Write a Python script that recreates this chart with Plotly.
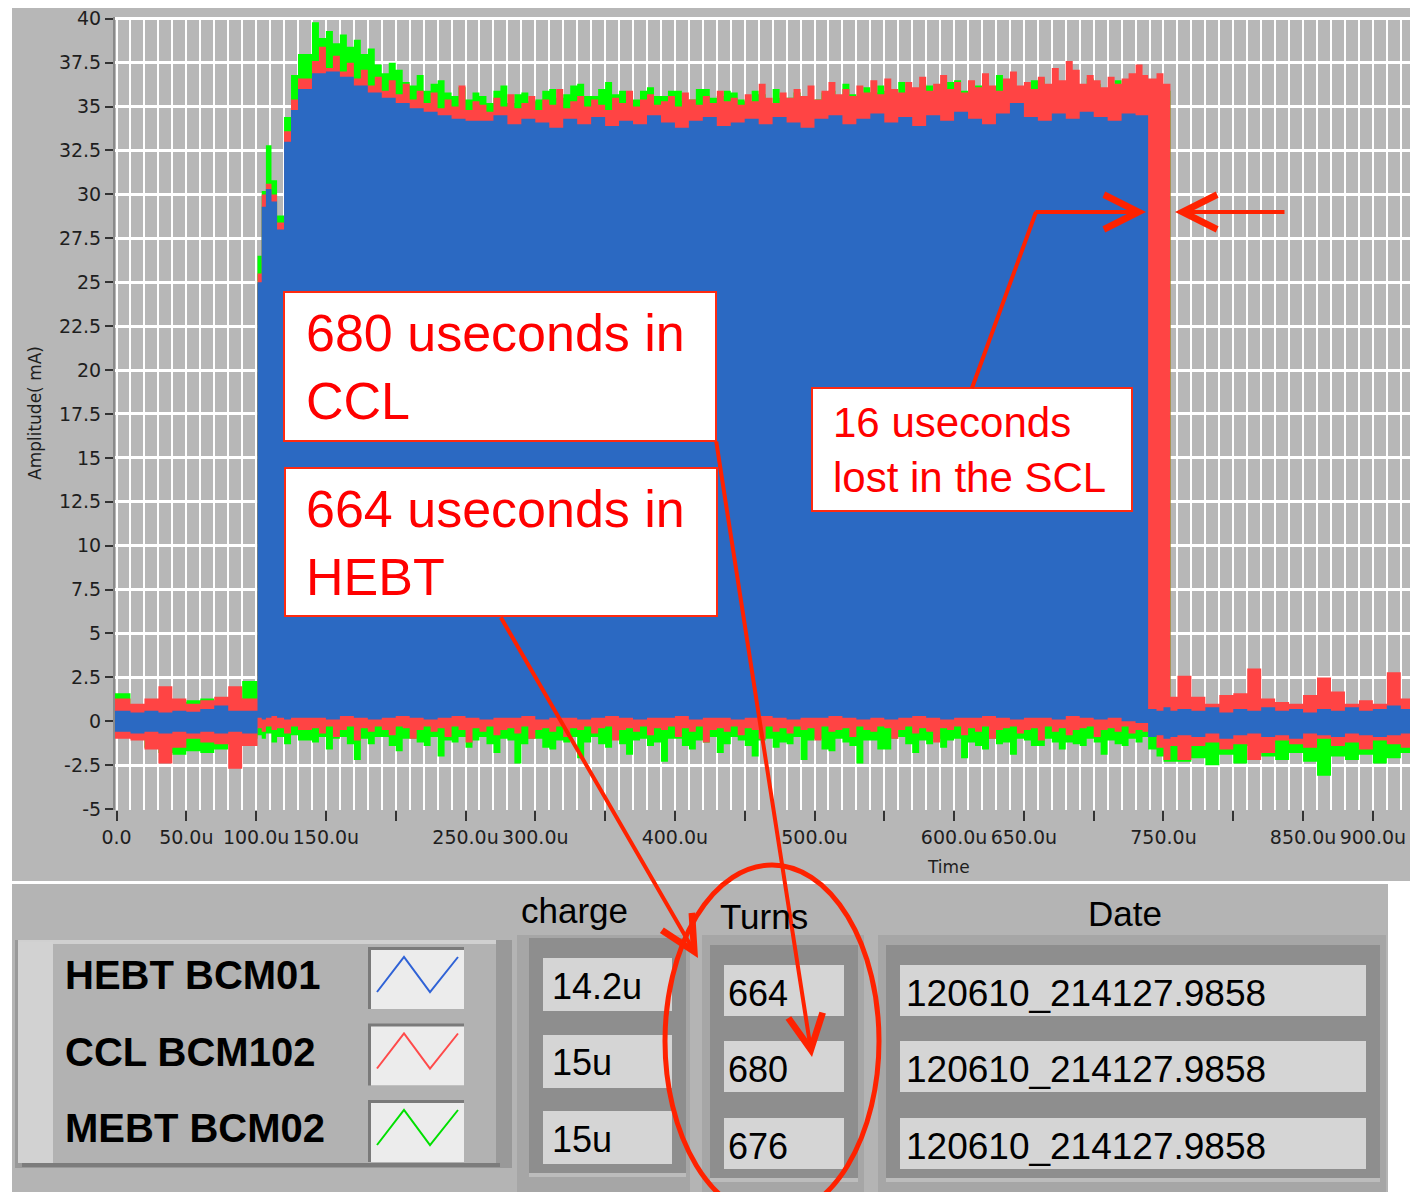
import plotly.graph_objects as go

# reference canvas size; the page body adds an 8px margin, so the figure
# itself is drawn 8px smaller and every position is shifted by that amount
W, H = 1418, 1192
OFF = 8
FW, FH = W - OFF, H - OFF

# sample times (microseconds); each value is held until the next sample
T_US = [-2, 10, 20, 30, 40, 50, 60, 70, 80, 90,
        101, 104, 107, 111, 115, 120, 125, 130,
        140, 150, 160, 170, 180, 190, 200, 210, 220, 230,
        240, 250, 260, 270, 280, 290, 300, 310, 320, 330,
        340, 350, 360, 370, 380, 390, 400, 410, 420, 430,
        440, 450, 460, 470, 480, 490, 500, 510, 520, 530,
        540, 550, 560, 570, 580, 590, 600, 610, 620, 630,
        640, 650, 660, 670, 680, 690, 700, 710, 720, 730,
        739, 745, 750, 755,
        760, 770, 780, 790, 800, 810, 820, 830, 840, 850,
        860, 870, 880, 890, 900, 910, 920]
# finer time base used for the noisier CCL / MEBT traces during the pulse
BODY_5US = [140, 145, 150, 155, 160, 165, 170, 175, 180, 185,
            190, 195, 200, 205, 210, 215, 220, 225, 230, 235,
            240, 245, 250, 255, 260, 265, 270, 275, 280, 285,
            290, 295, 300, 305, 310, 315, 320, 325, 330, 335,
            340, 345, 350, 355, 360, 365, 370, 375, 380, 385,
            390, 395, 400, 405, 410, 415, 420, 425, 430, 435,
            440, 445, 450, 455, 460, 465, 470, 475, 480, 485,
            490, 495, 500, 505, 510, 515, 520, 525, 530, 535,
            540, 545, 550, 555, 560, 565, 570, 575, 580, 585,
            590, 595, 600, 605, 610, 615, 620, 625, 630, 635,
            640, 645, 650, 655, 660, 665, 670, 675, 680, 685,
            690, 695, 700, 705, 710, 715, 720, 725, 730, 735]
T_FINE = T_US[:18] + BODY_5US + T_US[78:]
T_END = 928

# HEBT BCM01 (blue) upper / lower envelope, mA  (time base T_US)
HEBT_HI = [0.6, 0.5, 0.6, 0.5, 0.6, 0.55, 0.7, 0.9, 0.6, 0.6,
           25.0, 29.3, 30.3, 29.6, 28.0, 33.0, 34.8, 36.0,
           36.9, 37.0, 36.7, 36.2, 35.8, 35.5, 35.2, 34.9, 34.7, 34.5,
           34.3, 34.2, 34.2, 34.5, 34.0, 34.3, 34.1, 33.8, 34.3, 34.0,
           34.4, 33.9, 34.2, 34.0, 34.5, 34.1, 33.8, 34.2, 34.4, 33.9,
           34.1, 34.3, 34.0, 34.4, 34.1, 33.8, 34.3, 34.5, 34.0, 34.3,
           34.6, 34.1, 34.4, 33.9, 34.5, 34.2, 34.7, 34.3, 34.0, 34.6,
           35.2, 34.4, 34.2, 34.6, 34.3, 34.7, 34.4, 34.2, 34.6, 34.5,
           0.7, 0.6, 0.8, 0.6,
           0.7, 0.6, 0.8, 0.5, 0.7, 0.6, 0.8, 0.6, 0.7, 0.5,
           0.7, 0.6, 0.8, 0.6, 0.7, 0.9, 0.7]
HEBT_LO = [-0.6, -0.7, -0.6, -0.7, -0.6, -0.7, -0.6, -0.7, -0.6, -0.7,
           0.2, 0.1, 0.2, 0.3, 0.2, 0.1, 0.2, 0.2,
           0.2, 0.1, 0.3, 0.2, 0.1, 0.2, 0.3, 0.2, 0.1, 0.2,
           0.3, 0.2, 0.1, 0.2, 0.2, 0.3, 0.1, 0.2, 0.2, 0.1,
           0.2, 0.3, 0.2, 0.1, 0.2, 0.2, 0.3, 0.1, 0.2, 0.2,
           0.1, 0.2, 0.3, 0.2, 0.1, 0.2, 0.2, 0.3, 0.2, 0.1,
           0.2, 0.1, 0.2, 0.3, 0.2, 0.1, 0.2, 0.2, 0.3, 0.2,
           0.1, 0.2, 0.2, 0.1, 0.3, 0.2, 0.1, 0.2, 0.0, -0.1,
           -0.9, -0.8, -1.0, -0.9,
           -0.8, -0.9, -0.7, -1.0, -0.8, -0.7, -0.9, -0.8, -1.0, -0.7,
           -0.8, -0.9, -0.7, -0.8, -0.9, -0.8, -0.7]

# CCL BCM102 (red)  (time base T_FINE)
CCL_HI = [1.3, 1.0, 1.3, 2.0, 1.3, 1.0, 1.2, 1.4, 2.0, 1.3,
          25.5, 30.0, 30.6, 30.0, 28.4, 33.6, 35.4, 36.6,
          37.6, 38.4, 37.2, 37.9, 37.0, 37.5, 36.6, 37.1, 36.2, 36.7,
          35.9, 36.5, 35.7, 36.3, 35.4, 35.9, 35.2, 35.8, 34.9, 35.4,
          35.0, 36.2, 34.8, 35.3, 35.1, 34.7, 35.5, 35.0, 35.7, 34.9,
          35.2, 35.6, 34.8, 35.4, 35.1, 36.0, 34.9, 35.3, 35.6, 35.0,
          35.4, 35.1, 34.8, 35.5, 35.2, 35.9, 35.0, 35.4, 35.7, 35.1,
          35.3, 35.6, 35.0, 35.8, 35.4, 35.1, 35.6, 35.2, 35.9, 35.3,
          35.5, 35.1, 35.7, 35.3, 36.3, 35.5, 35.2, 35.8, 35.5, 36.0,
          35.6, 36.2, 35.4, 35.9, 36.4, 35.7, 36.0, 35.6, 36.2, 35.8,
          36.5, 35.7, 36.6, 36.0, 35.8, 36.4, 36.1, 36.7, 35.9, 36.3,
          36.8, 36.0, 36.4, 35.8, 36.5, 36.1, 36.9, 36.2, 35.9, 36.6,
          37.0, 36.2, 36.4, 36.0, 36.7, 36.3, 37.2, 36.5, 37.6, 37.1,
          36.3, 36.8, 36.5, 36.1, 36.7, 36.3, 36.6, 36.9, 37.4, 36.8,
          36.6, 36.9, 36.3, 1.4,
          2.6, 1.4, 1.0, 1.5, 1.6, 3.0, 1.3, 1.1, 1.0, 1.5,
          2.5, 1.7, 1.0, 1.2, 1.0, 2.8, 1.3]
CCL_LO = [-1.0, -1.1, -1.6, -2.4, -1.5, -1.0, -1.2, -1.3, -2.7, -1.4,
          -0.4, -0.6, -0.3, -0.5, -0.4, -0.7, -0.3, -0.5,
          -0.4, -0.7, -0.3, -0.9, -0.5, -0.3, -1.1, -0.4, -0.6, -0.3,
          -0.5, -0.8, -0.3, -0.4, -1.0, -0.5, -0.3, -0.6, -0.4, -0.9,
          -0.3, -0.5, -1.2, -0.4, -0.6, -0.3, -0.8, -0.5, -0.4, -0.7,
          -0.3, -1.0, -0.5, -0.4, -0.6, -0.3, -0.9, -0.4, -0.5, -0.3,
          -0.7, -0.4, -0.3, -1.1, -0.5, -0.4, -0.6, -0.3, -0.8, -0.4,
          -0.5, -0.3, -0.9, -0.4, -0.6, -0.3, -1.2, -0.5, -0.4, -0.6,
          -0.3, -0.8, -0.4, -0.5, -1.0, -0.3, -0.6, -0.4, -0.7, -0.3,
          -0.5, -0.4, -1.1, -0.3, -0.6, -0.5, -0.4, -0.9, -0.3, -0.5,
          -0.6, -0.3, -0.4, -1.0, -0.5, -0.3, -0.7, -0.4, -0.6, -1.2,
          -0.4, -0.5, -0.3, -0.8, -0.4, -0.6, -0.3, -1.0, -0.5, -0.4,
          -0.3, -0.7, -0.5, -0.4, -1.1, -0.3, -0.6, -0.4, -0.8, -0.5,
          -0.4, -0.3, -0.9, -0.5, -0.4, -0.6, -0.3, -0.7, -0.5, -0.6,
          -0.6, -1.5, -2.2, -1.4,
          -2.2, -1.4, -1.2, -1.6, -1.3, -2.2, -1.8, -1.1, -1.3, -1.5,
          -1.0, -1.4, -1.2, -1.6, -1.1, -1.3, -1.5]

# MEBT BCM02 (green)  (time base T_FINE)
MEBT_HI = [1.6, 0.9, 0.8, 1.0, 1.1, 1.2, 1.3, 0.9, 1.3, 2.3,
           26.5, 30.2, 32.8, 30.8, 28.8, 34.4, 36.8, 38.0,
           39.8, 38.9, 39.3, 38.6, 39.1, 38.4, 38.8, 38.0, 38.3, 37.4,
           36.9, 37.5, 37.1, 36.4, 36.2, 36.8, 35.9, 36.3, 36.5, 35.8,
           35.6, 36.1, 35.4, 35.8, 35.6, 35.2, 35.9, 36.2, 35.2, 35.7,
           35.8, 35.3, 35.4, 35.9, 36.0, 35.5, 35.7, 36.2, 36.3, 35.6,
           35.6, 36.0, 36.4, 35.7, 35.9, 35.4, 35.4, 35.9, 36.1, 35.6,
           35.6, 35.9, 35.9, 35.3, 35.4, 36.0, 36.0, 35.5, 35.6, 35.9,
           35.8, 35.4, 35.3, 35.9, 35.7, 35.2, 36.0, 35.5, 35.5, 35.8,
           35.6, 35.3, 35.4, 35.8, 35.9, 35.5, 36.3, 35.7, 35.6, 36.1,
           35.8, 36.2, 35.9, 35.6, 36.4, 35.8, 35.7, 36.3, 36.2, 35.8,
           35.9, 36.4, 36.5, 35.9, 35.8, 36.2, 36.0, 35.7, 36.8, 36.3,
           36.1, 35.8, 35.9, 36.5, 36.6, 36.0, 36.0, 36.4, 36.4, 35.9,
           36.1, 36.6, 36.3, 35.9, 36.0, 36.5, 35.9, 36.2, 36.2, 35.8,
           35.8, 36.0, 35.9, 0.6,
           0.5, 0.7, 0.4, 0.6, 0.5, 0.8, 0.4, 0.6, 0.5, 0.7,
           0.4, 0.6, 0.5, 0.7, 0.6, 0.8, 1.2]
MEBT_LO = [-0.8, -1.0, -1.5, -1.8, -1.9, -1.7, -1.8, -1.6, -1.3, -1.0,
           -0.8, -1.0, -0.7, -1.2, -0.9, -1.3, -0.8, -1.1,
           -1.2, -0.9, -1.6, -1.0, -0.9, -1.3, -2.2, -1.0, -1.3, -0.9,
           -0.9, -1.4, -1.7, -1.0, -1.0, -1.2, -1.4, -0.9, -2.0, -1.1,
           -1.2, -0.9, -1.5, -1.1, -0.9, -1.3, -1.8, -1.0, -1.1, -2.4,
           -1.3, -1.0, -1.0, -1.5, -1.6, -1.1, -1.2, -0.9, -2.1, -1.2,
           -0.9, -1.3, -1.5, -1.0, -1.3, -1.9, -1.1, -1.0, -1.4, -1.2,
           -2.3, -1.0, -1.0, -1.4, -1.6, -1.1, -1.2, -0.9, -1.8, -1.3,
           -0.9, -1.1, -1.4, -2.0, -1.1, -1.0, -1.5, -1.2, -1.3, -0.9,
           -2.2, -1.1, -1.0, -1.6, -1.7, -1.0, -1.2, -1.4, -2.4, -1.1,
           -1.1, -1.6, -1.6, -1.0, -0.9, -1.3, -1.8, -1.1, -1.3, -1.0,
           -1.5, -1.1, -1.0, -2.1, -1.2, -1.4, -1.6, -1.0, -1.3, -1.2,
           -1.9, -1.0, -1.1, -1.4, -1.4, -1.0, -1.2, -1.6, -1.2, -1.3,
           -1.4, -1.0, -1.2, -1.9, -1.1, -1.3, -1.4, -1.0, -1.2, -0.9,
           -1.6, -2.0, -2.3, -2.3,
           -2.3, -2.1, -2.5, -1.9, -2.4, -1.4, -2.0, -2.2, -1.8, -2.3,
           -3.1, -2.0, -2.2, -1.9, -2.4, -2.1, -1.8]

X_TICKS = [0, 50, 100, 150, 200, 250, 300, 350, 400, 450,
           500, 550, 600, 650, 700, 750, 800, 850, 900]
X_LABELS = ["0.0", "50.0u", "100.0u", "150.0u", "", "250.0u", "300.0u", "",
            "400.0u", "", "500.0u", "", "600.0u", "650.0u", "", "750.0u",
            "", "850.0u", "900.0u"]
Y_TICKS = [-5, -2.5, 0, 2.5, 5, 7.5, 10, 12.5, 15, 17.5, 20, 22.5, 25,
           27.5, 30, 32.5, 35, 37.5, 40]
Y_LABELS = ["-5", "-2.5", "0", "2.5", "5", "7.5", "10", "12.5", "15", "17.5",
            "20", "22.5", "25", "27.5", "30", "32.5", "35", "37.5", "40"]

CHANNELS = ["HEBT BCM01", "CCL BCM102", "MEBT BCM02"]
CHANNEL_COLORS = ["#2f62d6", "#ff4a4a", "#00e000"]
CHARGE = ["14.2u", "15u", "15u"]
TURNS = ["664", "680", "676"]
DATES = ["120610_214127.9858", "120610_214127.9858", "120610_214127.9858"]

BLUE, RED, GREEN = "#2b69c2", "#ff4444", "#00ff00"
ARROW = "#ff2200"


def px(x):
    return (x - OFF) / FW


def py(y):
    return 1 - (y - OFF) / FH


def band(t, hi, lo):
    edges = t[1:] + [T_END]
    xs, ys = [], []
    for t0, t1, v in zip(t, edges, hi):
        xs += [t0, t1]
        ys += [v, v]
    for t0, t1, v in reversed(list(zip(t, edges, lo))):
        xs += [t1, t0]
        ys += [v, v]
    return xs, ys


def rect(x0, y0, x1, y1, fill, line=None, lw=0, layer="above"):
    return dict(type="rect", xref="paper", yref="paper",
                x0=px(x0), x1=px(x1), y0=py(y1), y1=py(y0),
                fillcolor=fill, layer=layer,
                line=dict(color=line or fill, width=lw))


def label(x, y, s, size, family="Liberation Sans", color="black",
          xanchor="left"):
    return dict(x=px(x), y=py(y), xref="paper", yref="paper", text=s,
                showarrow=False, xanchor=xanchor, yanchor="middle",
                align="left", font=dict(family=family, size=size, color=color))


def arrow(tip, tail):
    return dict(x=px(tip[0]), y=py(tip[1]), xref="paper", yref="paper",
                ax=tail[0] - tip[0], ay=tail[1] - tip[1],
                axref="pixel", ayref="pixel", text="", showarrow=True,
                arrowhead=5, arrowsize=1.7, arrowwidth=4, arrowcolor=ARROW)


fig = go.Figure()

for t, hi, lo, color in [(T_FINE, MEBT_HI, MEBT_LO, GREEN),
                         (T_FINE, CCL_HI, CCL_LO, RED),
                         (T_US, HEBT_HI, HEBT_LO, BLUE)]:
    xs, ys = band(t, hi, lo)
    fig.add_trace(go.Scatter(x=xs, y=ys, mode="lines", fill="toself",
                             fillcolor=color, line=dict(width=0),
                             hoverinfo="skip", showlegend=False))

shapes = []
# LabVIEW panel backgrounds
shapes.append(rect(12, 3, 1410, 881, "#b7b7b7", layer="below"))
shapes.append(rect(12, 884, 1388, 1192, "#b4b4b4"))

# legend frame
shapes.append(rect(15, 940, 512, 1168, "#999999"))
shapes.append(rect(18, 942, 496, 1163, "#b2b2b2"))
shapes.append(rect(18, 940, 496, 944, "#d0d0d0"))
shapes.append(rect(18, 942, 53, 1163, "#d2d2d2"))
shapes.append(rect(22, 1163, 500, 1167, "#7c7c7c"))
for i, c in enumerate(CHANNEL_COLORS):
    dy = i * 76.5
    shapes.append(rect(368, 947 + dy, 464, 1009 + dy, "#7a7a7a"))
    shapes.append(rect(371, 950 + dy, 464, 1009 + dy, "#ececec"))
    pts = [(377, 992 + dy), (404, 957 + dy), (430, 992 + dy), (458, 957 + dy)]
    path = "M " + " L ".join(f"{px(a)},{py(b)}" for a, b in pts)
    shapes.append(dict(type="path", xref="paper", yref="paper", path=path,
                       line=dict(color=c, width=2), layer="above"))

# table columns: (outer x0, x1, cell x0, x1, row tops, cell height)
columns = [(517, 690, 543, 672, [958, 1035, 1111], 53),
           (702, 864, 724, 844, [965, 1041, 1118], 51),
           (878, 1386, 900, 1366, [965, 1041, 1118], 51)]
for ox0, ox1, cx0, cx1, tops, ch in columns:
    shapes.append(rect(ox0, 935, ox1, 1192, "#a6a6a6"))
    for top in tops:
        shapes.append(rect(cx0 - 14, top - 20, cx1 + 14, top + ch + 9, "#8e8e8e"))
        shapes.append(rect(cx0 - 14, top + ch + 9, cx1 + 14, top + ch + 13, "#bcbcbc"))
        shapes.append(rect(cx0, top, cx1, top + ch, "#d5d5d5"))

# annotation boxes
shapes.append(rect(284, 292, 716, 441, "white", line="#ff2a10", lw=2))
shapes.append(rect(285, 468, 717, 616, "white", line="#ff2a10", lw=2))
shapes.append(rect(812, 388, 1132, 511, "white", line="#ff2a10", lw=2))

# bent arrow tail and ellipse
shapes.append(dict(type="line", xref="paper", yref="paper",
                   x0=px(972), y0=py(388), x1=px(1036), y1=py(212),
                   line=dict(color=ARROW, width=4), layer="above"))
shapes.append(dict(type="circle", xref="paper", yref="paper",
                   x0=px(665), x1=px(879), y0=py(1217), y1=py(865),
                   line=dict(color=ARROW, width=5), layer="above"))

axis_font = dict(family="DejaVu Sans", size=17, color="#1e1e1e")

annotations = [
    label(304, 367, "680 useconds in<br>CCL", 52, color="#ff0000"),
    label(304, 543, "664 useconds in<br>HEBT", 52, color="#ff0000"),
    label(831, 450, "16 useconds<br>lost in the SCL", 42, color="#ff0000"),
    arrow((1146, 212), (1034, 212)),
    arrow((1175, 212), (1286, 212)),
    arrow((698, 958), (500, 616)),
    arrow((812, 1057), (716, 440)),
    label(948, 867, "Time", 17, family="DejaVu Sans", color="#1e1e1e",
          xanchor="center"),
    dict(x=px(35), y=py(413), xref="paper", yref="paper",
         text="Amplitude( mA)", showarrow=False, textangle=-90,
         xanchor="center", yanchor="middle", font=axis_font),
    label(574, 910, "charge", 35, xanchor="center"),
    label(764, 916, "Turns", 35, xanchor="center"),
    label(1125, 913, "Date", 35, xanchor="center"),
]
for i, name in enumerate(CHANNELS):
    annotations.append(label(63, 975 + i * 76.5, f"<b>{name}</b>", 40))
for i, v in enumerate(CHARGE):
    annotations.append(label(550, 986 + i * 76.5, v, 36))
for i, v in enumerate(TURNS):
    annotations.append(label(726, 993 + i * 76.5, v, 36))
for i, v in enumerate(DATES):
    annotations.append(label(904, 993 + i * 76.5, v, 37))

tick_font = dict(family="DejaVu Sans", size=19, color="#1e1e1e")

fig.update_layout(
    width=FW, height=FH,
    margin=dict(l=0, r=0, t=0, b=0),
    paper_bgcolor="white",
    plot_bgcolor="#ebebeb",
    shapes=shapes,
    annotations=annotations,
    xaxis=dict(
        domain=[px(115), px(1410)],
        range=[-1.1, 926.6],
        tickmode="array", tickvals=X_TICKS, ticktext=X_LABELS,
        ticks="outside", ticklen=10, tickwidth=1.5, tickcolor="#333333",
        tickfont=tick_font, ticklabeloverflow="allow",
        showgrid=True, gridcolor="white", gridwidth=2,
        minor=dict(tickmode="linear", tick0=0, dtick=10, showgrid=True,
                   gridcolor="white", gridwidth=2, ticks=""),
        zeroline=False, showline=False, automargin=False,
    ),
    yaxis=dict(
        domain=[py(810), py(17)],
        range=[-5.05, 40.1],
        tickmode="array", tickvals=Y_TICKS, ticktext=Y_LABELS,
        ticks="outside", ticklen=8, tickwidth=1.5, tickcolor="#333333",
        tickfont=tick_font, ticklabeloverflow="allow",
        showgrid=True, gridcolor="white", gridwidth=2.5,
        zeroline=False, showline=True, linecolor="#8a8a8a", linewidth=2,
        automargin=False,
    ),
)

fig.write_html("out.html")
